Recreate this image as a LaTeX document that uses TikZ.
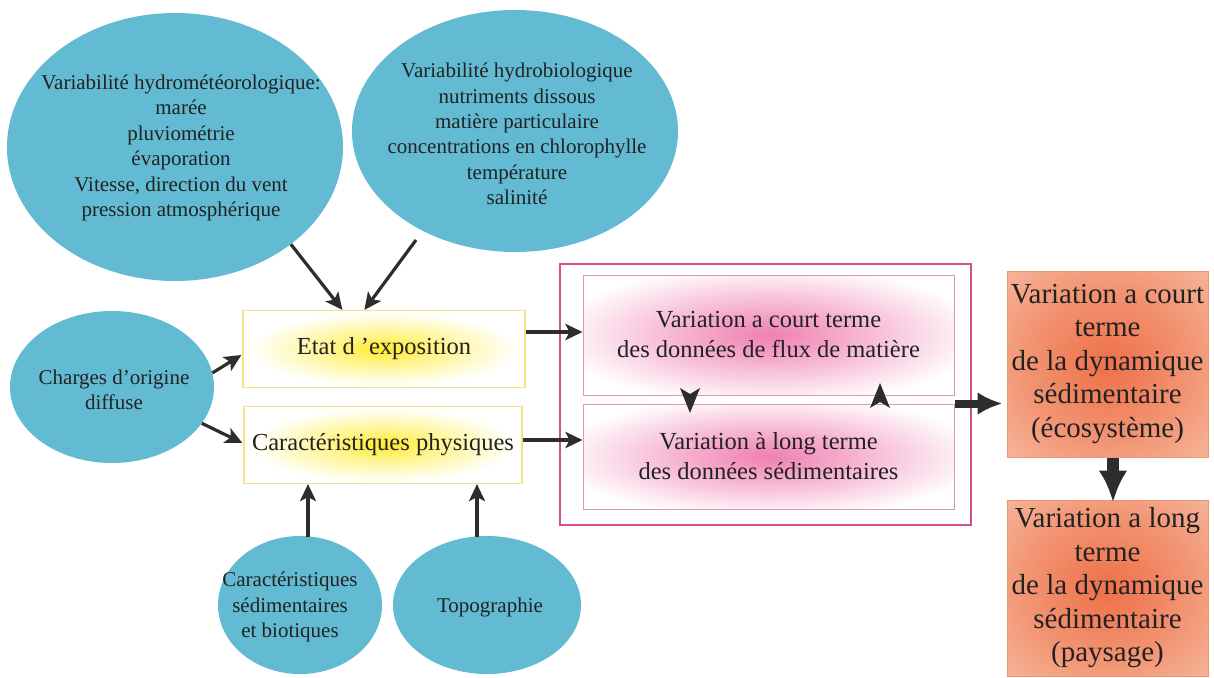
\documentclass[tikz,border=0pt]{standalone}
\usepackage{fontspec}
\setmainfont{Liberation Serif}
\usetikzlibrary{arrows.meta,shapes.geometric,calc}
\definecolor{ell}{RGB}{98,187,210}
\definecolor{txt}{RGB}{34,34,34}
\definecolor{ybord}{RGB}{242,228,130}
\definecolor{ycen}{RGB}{255,235,40}
\definecolor{pbord}{RGB}{212,80,140}
\definecolor{pinner}{RGB}{224,150,182}
\definecolor{pcen}{RGB}{236,96,158}
\definecolor{ocen}{RGB}{238,112,72}
\definecolor{oedge}{RGB}{248,200,176}
\definecolor{obord}{RGB}{232,150,115}
\definecolor{arrc}{RGB}{45,45,45}
\pgfdeclareradialshading{yglow}{\pgfpoint{0bp}{0bp}}{color(0bp)=(ycen);color(9bp)=(ycen!55!white);color(24bp)=(white);color(50bp)=(white)}
\pgfdeclareradialshading{pglow}{\pgfpoint{0bp}{0bp}}{color(0bp)=(pcen!80!white);color(13bp)=(pcen!45!white);color(29bp)=(white);color(50bp)=(white)}
\pgfdeclareradialshading{oglow}{\pgfpoint{0bp}{0bp}}{color(0bp)=(ocen);color(20bp)=(ocen!60!oedge);color(45bp)=(oedge);color(50bp)=(oedge)}
\tikzset{
  ellnode/.style={ellipse, fill=ell, draw=none, inner sep=0pt},
  etext/.style={text=txt, align=center, font=\fontsize{21}{25.4}\selectfont, inner sep=0pt},
  ybox/.style={rectangle, draw=ybord, line width=1.2pt, shading=yglow, inner sep=0pt, text=txt, font=\fontsize{24.5}{29}\selectfont},
  pouter/.style={rectangle, draw=pbord, line width=2.8pt, fill=white, inner sep=0pt},
  pbox/.style={rectangle, draw=pinner, line width=1pt, shading=pglow, inner sep=0pt, text=txt, align=center, font=\fontsize{24.5}{30}\selectfont},
  obox/.style={rectangle, draw=obord, line width=1pt, shading=oglow, inner sep=0pt, text=txt, align=center, font=\fontsize{29}{33.5}\selectfont},
  arr/.style={draw=arrc, line width=3.2pt, -{Stealth[length=17pt,width=16pt,inset=4pt]}},
  rarr/.style={draw=arrc, line width=8pt, -{Latex[length=25pt,width=23pt]}},
  varr/.style={draw=arrc, line width=12pt, -{Latex[length=32pt,width=29pt]}},
  headtri/.style={fill=arrc, draw=none}
}
\begin{document}
\begin{tikzpicture}[x=1pt,y=-1pt]
\useasboundingbox (0,0) rectangle (1214,677);
\fill[white] (0,0) rectangle (1214,677);
% ellipses
\node[ellnode, minimum width=336pt, minimum height=268pt] (e1) at (175,147) {};
\node[etext] (e1t) at (181,148) {Variabilité hydrométéorologique:\\marée\\pluviométrie\\évaporation\\Vitesse, direction du vent\\pression atmosphérique};
\node[ellnode, minimum width=326pt, minimum height=242pt] (e2) at (515,131) {};
\node[etext] (e2t) at (517,134) {Variabilité hydrobiologique\\nutriments dissous\\matière particulaire\\concentrations en chlorophylle\\température\\salinité};
\node[ellnode, minimum width=204pt, minimum height=152pt] (ch) at (112,387) {};
\node[etext] (cht) at (114,390) {Charges d’origine\\diffuse};
\node[ellnode, minimum width=164pt, minimum height=138pt] (sed) at (300,605) {};
\node[etext] (sedt) at (290,607) {Caractéristiques\\sédimentaires\\et biotiques};
\node[ellnode, minimum width=188pt, minimum height=138pt] (topo) at (487,605) {};
\node[etext] (topot) at (490,607) {Topographie};
% yellow boxes
\node[ybox, minimum width=282pt, minimum height=77pt] (etat) at (384,349) {Etat d ’exposition};
\node[ybox, minimum width=278pt, minimum height=77pt] (carac) at (383,445) {Caractéristiques physiques};
% pink boxes
\node[pouter, minimum width=411pt, minimum height=261pt] (pout) at (765.5,394.5) {};
\node[pbox, minimum width=371pt, minimum height=120pt] (pup) at (768.5,335) {Variation a court terme\\des données de flux de matière};
\node[pbox, minimum width=371pt, minimum height=105pt] (plow) at (768.5,456.5) {Variation à long terme\\des données sédimentaires};
% orange boxes
\node[obox, minimum width=201pt, minimum height=186pt] (oup) at (1107.5,364) {Variation a court\\terme\\de la dynamique\\sédimentaire\\(écosystème)};
\node[obox, minimum width=201pt, minimum height=176pt] (olow) at (1107.5,588) {Variation a long\\terme\\de la dynamique\\sédimentaire\\(paysage)};
% connectors
\coordinate (a2s) at (416,240);
\draw[arr] (e1.-40) -- ($(etat.north west)+(100,0)$);
\draw[arr] (a2s) -- ($(etat.north west)+(122,0)$);
\draw[arr] (ch.8) -- ($(etat.west)+(-1,6)$);
\draw[arr] (ch.-22) -- ($(carac.west)+(-1,-2)$);
\coordinate (s1) at (308,537);
\coordinate (s2) at (477,537);
\draw[arr] (s1) -- (s1 |- carac.south);
\draw[arr] (s2) -- (s2 |- carac.south);
\draw[arr] ([yshift=17pt]etat.east) coordinate (q1) -- (q1 -| pup.west);
\draw[arr] ([yshift=5pt]carac.east) coordinate (q2) -- (q2 -| plow.west);
\draw[rarr, shorten >=4pt] (plow.north east) coordinate (q3) -- (q3 -| oup.west);
\draw[varr, shorten >=-3pt] ([xshift=5.5pt]oup.south) -- ([xshift=5.5pt]olow.north);
% feedback arrowheads between the two pink boxes
\coordinate (d2) at (690,413);
\coordinate (u2) at (880,383);
\fill[headtri] (d2) -- ++(-10,-25) -- ++(10,6) -- ++(10,-6) -- cycle;
\fill[headtri] (u2) -- ++(-10,25) -- ++(10,-6) -- ++(10,6) -- cycle;
\end{tikzpicture}
\end{document}
